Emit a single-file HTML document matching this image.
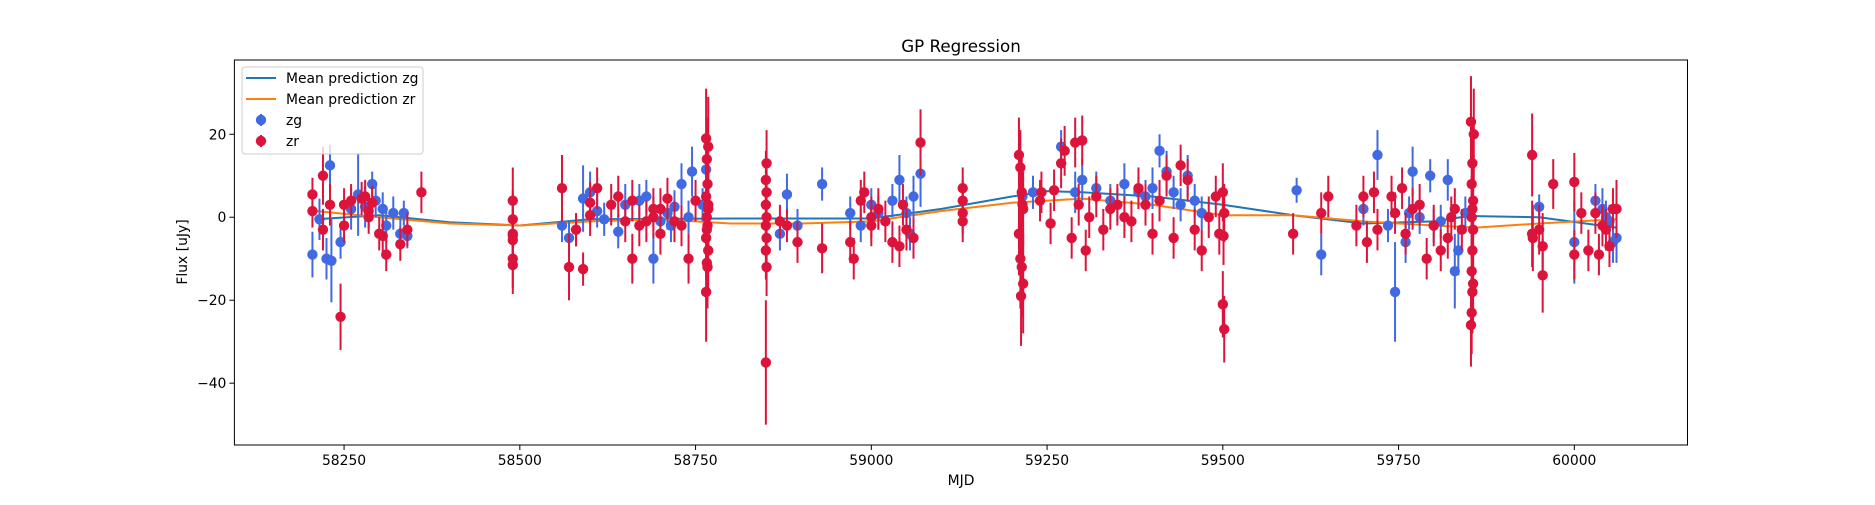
<!DOCTYPE html>
<html><head><meta charset="utf-8"><style>
body{margin:0;background:#fff}
svg text{font-family:"DejaVu Sans","Liberation Sans",sans-serif;fill:#000}
</style></head><body>
<svg id="chart" width="1875" height="500" xmlns="http://www.w3.org/2000/svg">
<rect width="1875" height="500" fill="#fff"/>
<g id="plot"></g>
</svg>
<script>
// zg observations: [MJD, flux, err]
const zgData = [
[58205,-9,5.5],[58215,-0.5,5],[58225,-10,5],[58230,12.5,5],[58232,-10.5,10],[58245,-6,4],[58260,2,5],[58270,5.5,10],[58280,2.5,5],[58290,8,3],[58295,4,4],[58305,2,4],[58310,-2,4],[58320,1,4],[58330,-4,4],[58335,1,3],[58340,-4.5,3],
[58490,-4.5,3],
[58560,-2,4],[58570,-5,4],[58580,-3,4],[58590,4.5,8],[58600,6,5],[58610,1.5,4],[58620,-0.5,4],[58640,-3.5,4],[58650,3,5],[58670,4,4],[58680,5,4],[58690,-10,6],[58700,-1,4],[58710,1,4],[58715,-2,4],[58720,2.5,4],[58730,8,5],[58740,0,4],[58745,11,6],[58760,3,4],[58765,11.5,6],
[58870,-4,4],[58880,5.5,5],[58895,-2,4],[58930,8,4],[58970,1,4],[58985,-2,4],[59000,3,4],[59010,1,4],[59030,4,4],[59040,9,6],[59050,1,4],[59055,-4,4],[59060,5,5],[59070,10.5,8],
[59215,5,4],[59230,6,4],[59270,17,4],[59290,6,5],[59300,9,5],[59320,7,4],[59340,4,4],[59350,3,4],[59360,8,5],[59380,6,4],[59390,5,4],[59400,7,5],[59410,16,4],[59420,11,5],[59430,6,4],[59440,3,4],[59450,10,5],[59460,4,4],[59470,1,4],
[59605,6.5,3],[59640,-9,5],[59700,2,4],[59720,15,6],[59735,-2,4],[59745,-18,12],[59760,-6,5],[59765,1,4],[59770,11,6],[59780,0,4],[59795,10,4],[59800,-2,4],[59810,-1,4],[59820,9,5],[59830,-13,9],[59835,-8,6],[59845,1,4],
[59950,2.5,3],[60000,-6,10],[60030,4,4],[60040,2,5],[60045,0,4],[60050,-1,4],[60055,-6,5],[60060,-5,6]
];
// zr observations: [MJD, flux, err]
const zrData = [
[58205,5.5,4],[58205,1.5,4],[58220,10,7],[58220,-3,5],[58230,3,5],[58245,-24,8],[58250,3,4],[58250,-2,4],[58260,4,4],[58275,4.5,4],[58280,5,4],[58285,1.5,4],[58285,0,4],[58290,3.5,4],[58300,-4,4],[58305,-4.5,4],[58310,-9,4],[58330,-6.5,4],[58340,-3,4],[58360,6,5],
[58490,4,8],[58490,-0.5,7],[58490,-4,7],[58490,-5.5,7],[58490,-10,7],[58490,-11.5,7],
[58560,7,8],[58570,-12,8],[58580,-3,4],[58590,-12.5,4],[58600,0.5,5],[58600,3.5,5],[58610,7,5],[58630,3,5],[58640,5,5],[58650,-1,5],[58660,4,5],[58660,-10,6],[58670,-2,5],[58680,-1,5],[58690,2,5],[58690,0,5],[58700,-4,5],[58700,2,5],[58710,4.5,5],[58720,-1,5],[58730,-2,5],[58740,-10,6],[58750,4,5],
[58765,19,12],[58768,17,12],[58766,14,10],[58767,8,10],[58765,5,10],[58768,3,10],[58766,0,10],[58767,-2,10],[58765,-5,10],[58768,-8,10],[58766,-11,10],[58767,-12,10],[58765,-18,12],[58766,-3,10],[58768,2,10],
[58850,-35,15],[58851,13,8],[58850,9,7],[58851,6,7],[58850,3,7],[58851,0,7],[58850,-2,7],[58851,-5,7],[58850,-8,7],[58851,-12,7],
[58870,-1,4],[58880,-2,4],[58895,-6,5],[58930,-7.5,6],[58970,-6,5],[58975,-10,5],[58985,4,5],[58990,6,5],[59000,-2,5],[59000,0,5],[59010,2,5],[59020,-1,5],[59030,-6,5],[59040,-7,5],[59045,3,5],[59050,-3,5],[59060,-5,5],[59070,18,8],
[59130,7,5],[59130,4,5],[59130,1,5],[59130,-1,5],
[59210,15,9],[59212,12,9],[59214,6,9],[59216,2,9],[59210,-4,10],[59212,-10,12],[59214,-12,12],[59216,-16,12],[59213,-19,12],[59215,3,9],
[59240,4,5],[59242,6,5],[59255,-1.5,5],[59260,6.5,5],[59270,13,6],[59275,16,6],[59285,-5,5],[59290,18,6],[59295,3,5],[59300,18.5,6],[59305,-8,5],[59310,0,5],[59320,5,5],[59330,-3,5],[59340,2,5],[59350,3,5],[59360,0,5],[59370,-1,5],[59380,7,5],[59390,3,5],[59400,-4,5],[59410,4,5],[59420,10,5],[59430,-5,5],[59440,12.5,5],[59450,9,5],[59460,-3,5],[59470,-8,5],[59480,0,5],[59490,5,5],[59495,-4,5],
[59500,-21,8],[59502,-27,8],[59500,6,7],[59502,1,7],[59501,-4.5,7],
[59600,-4,5],[59640,1,5],[59650,5,5],[59690,-2,5],[59700,5,5],[59705,-6,5],[59715,6,5],[59720,-3,5],[59740,5,5],[59745,1,5],[59755,7,5],[59760,-4,5],[59770,2,5],[59780,3,5],[59790,-10,5],[59800,-2,5],[59810,-8,5],[59820,-5,5],[59825,0,5],[59830,2,5],[59840,-3,5],
[59853,23,11],[59857,20,11],[59855,13,10],[59854,8,10],[59856,4,10],[59855,2,10],[59854,0,10],[59856,-3,10],[59855,-8,10],[59854,-13,10],[59856,-16,10],[59855,-18,10],[59854,-23,10],[59853,-26,10],
[59940,15,10],[59940,-4,8],[59941,-5,8],[59950,-3,6],[59955,-7,8],[59955,-14,9],[59970,8,6],[60000,8.5,7],[60000,-9,6],[60010,1,5],[60020,-8,5],[60030,1,5],[60035,-9,5],[60040,-2,5],[60045,-3,5],[60050,-7,5],[60055,2,5],[60060,2,7]
];
// GP mean predictions
const zgPredX = [58210,58300,58400,58500,58600,58700,58800,58900,59000,59100,59200,59250,59300,59400,59500,59600,59700,59800,59850,59950,60060];
const zgPredY = [-0.5,0.5,-1.2,-2,-0.5,-0.4,-0.3,-0.3,-0.3,2,5,6.3,6,5,3,0.5,-1.5,-1,0.3,0,-2.5];
const zrPredX = [58210,58300,58400,58500,58600,58700,58800,58900,59000,59100,59200,59300,59400,59500,59600,59700,59800,59860,59950,60060];
const zrPredY = [1.5,0,-1.5,-2,-1,-0.5,-1.5,-1.5,-1,1.5,3.5,4.5,3,0.5,0.5,-1,-2,-2.5,-1.5,-0.5];
const xTicks = [58250,58500,58750,59000,59250,59500,59750,60000];
const yTicks = [20,0,-20,-40];

const L=234.4,R=1687.5,T=60,B=445;
const X0=58094,X1=60161,Y0=-54.9,Y1=37.9;
const sx=v=>L+(v-X0)/(X1-X0)*(R-L);
const sy=v=>B-(v-Y0)/(Y1-Y0)*(B-T);
const NS="http://www.w3.org/2000/svg";
const g=document.getElementById('plot');
function mk(tag,attrs,parent){const e=document.createElementNS(NS,tag);for(const k in attrs)e.setAttribute(k,attrs[k]);(parent||g).appendChild(e);return e;}

function line(xs,ys,color,name){
  const d=xs.map((x,i)=>(i?'L':'M')+sx(x).toFixed(1)+' '+sy(ys[i]).toFixed(1)).join(' ');
  const p=mk('path',{d:d,fill:'none',stroke:color,'stroke-width':2});
  
  
}
line(zgPredX,zgPredY,'#1f77b4','mean-prediction-zg-line');
line(zrPredX,zrPredY,'#ff7f0e','mean-prediction-zr-line');

function series(data,color,name){
  const grp=mk('g',{});
  
  
  data.forEach(p=>{
    const x=sx(p[0]);
    const eb=mk('line',{x1:x,x2:x,y1:sy(p[1]+p[2]),y2:sy(p[1]-p[2]),stroke:color,'stroke-width':2},grp);
    
    
  });
  data.forEach(p=>{
    const c=mk('circle',{cx:sx(p[0]),cy:sy(p[1]),r:5.2,fill:color},grp);
    
    
  });
}
series(zgData,'#4169e1','zg');
series(zrData,'#dc143c','zr');

// axes frame
const fr=mk('rect',{x:L,y:T,width:R-L,height:B-T,fill:'none',stroke:'#000','stroke-width':1});


xTicks.forEach(v=>{
  const x=sx(v);
  mk('line',{x1:x,x2:x,y1:B,y2:B+5,stroke:'#000','stroke-width':1});
  const t=mk('text',{x:x,y:B+20,'text-anchor':'middle','font-size':'13.9px'});
  t.textContent=v;
  
  
});
yTicks.forEach(v=>{
  const y=sy(v);
  mk('line',{x1:L-5,x2:L,y1:y,y2:y,stroke:'#000','stroke-width':1});
  const t=mk('text',{x:L-8,y:y+5,'text-anchor':'end','font-size':'13.9px'});
  t.textContent=(v<0?'\u2212'+(-v):v);
  
  
});
</script>
<svg style="position:absolute;left:0;top:0" width="1875" height="500" xmlns="http://www.w3.org/2000/svg">
<text x="961" y="52" text-anchor="middle" font-size="16.7px" font-family="DejaVu Sans, Liberation Sans, sans-serif">GP Regression</text>
<text x="961" y="485" text-anchor="middle" font-size="13.9px" font-family="DejaVu Sans, Liberation Sans, sans-serif">MJD</text>
<text x="0" y="0" transform="translate(187,252) rotate(-90)" text-anchor="middle" font-size="13.9px" font-family="DejaVu Sans, Liberation Sans, sans-serif">Flux [uJy]</text>
<g font-family="DejaVu Sans, Liberation Sans, sans-serif" font-size="13.9px">
<rect x="242" y="67" width="181" height="87" rx="3" fill="#fff" fill-opacity="0.8" stroke="#ccc"/>
<line x1="246" x2="276" y1="78" y2="78" stroke="#1f77b4" stroke-width="2"/>
<text x="286" y="83">Mean prediction zg</text>
<line x1="246" x2="276" y1="99" y2="99" stroke="#ff7f0e" stroke-width="2"/>
<text x="286" y="104">Mean prediction zr</text>
<line x1="261" x2="261" y1="114" y2="126" stroke="#4169e1" stroke-width="2"/>
<circle cx="261" cy="120" r="5.2" fill="#4169e1"/>
<text x="286" y="125">zg</text>
<line x1="261" x2="261" y1="135" y2="147" stroke="#dc143c" stroke-width="2"/>
<circle cx="261" cy="141" r="5.2" fill="#dc143c"/>
<text x="286" y="146">zr</text>
</g>
</svg>
</body></html>
